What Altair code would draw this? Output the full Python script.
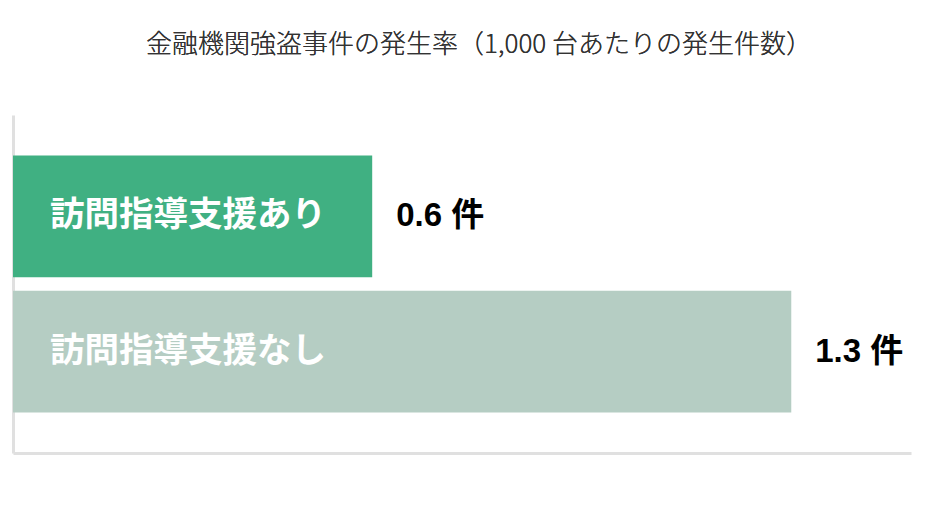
import altair as alt
import pandas as pd

categories = ["訪問指導支援あり", "訪問指導支援なし"]
values = [0.6, 1.3]
value_labels = ["0.6 件", "1.3 件"]
colors = ["#40b082", "#b5cdc3"]
title_text = "金融機関強盗事件の発生率（1,000 台あたりの発生件数）"

df = pd.DataFrame({"cat": categories, "val": values, "lab": value_labels, "col": colors})

CJK = "Noto Sans CJK JP"

y = alt.Y("cat:N", sort=categories, title=None,
          scale=alt.Scale(paddingInner=0.1, paddingOuter=0.3))
x = alt.X("val:Q", title=None, scale=alt.Scale(domain=[0, 1.5], nice=False))

base = alt.Chart(df)

bars = base.mark_bar().encode(x=x, y=y, color=alt.Color("col:N", scale=None))

inner = base.mark_text(align="left", baseline="middle", color="white", fontSize=34.5,
                       fontWeight="bold", font=CJK).encode(
    x=alt.value(37), y=alt.Y("cat:N", sort=categories), text="cat:N")

outer = base.mark_text(align="left", baseline="middle", color="black", fontSize=33,
                       fontWeight="bold", dx=24, font="Liberation Sans, " + CJK).encode(
    x=alt.X("val:Q"), y=alt.Y("cat:N", sort=categories), text="lab:N")

title = base.mark_text(align="center", baseline="middle", color="#333333", fontSize=26,
                       fontWeight=300, font=CJK).encode(
    x=alt.value(466), y=alt.value(-70), text=alt.value(title_text))

chart = alt.layer(bars, inner, outer, title).properties(
    width=898, height=338,
    autosize=alt.AutoSizeParams(type="none"),
    padding={"left": 5, "top": 107, "right": 20, "bottom": 20},
).configure_view(stroke=None).configure_axis(
    labels=False, ticks=False, grid=False, title=None,
    domainColor="#e0e0e0", domainWidth=3,
)

chart.save("out.html", embed_options={"renderer": "svg", "actions": False})
